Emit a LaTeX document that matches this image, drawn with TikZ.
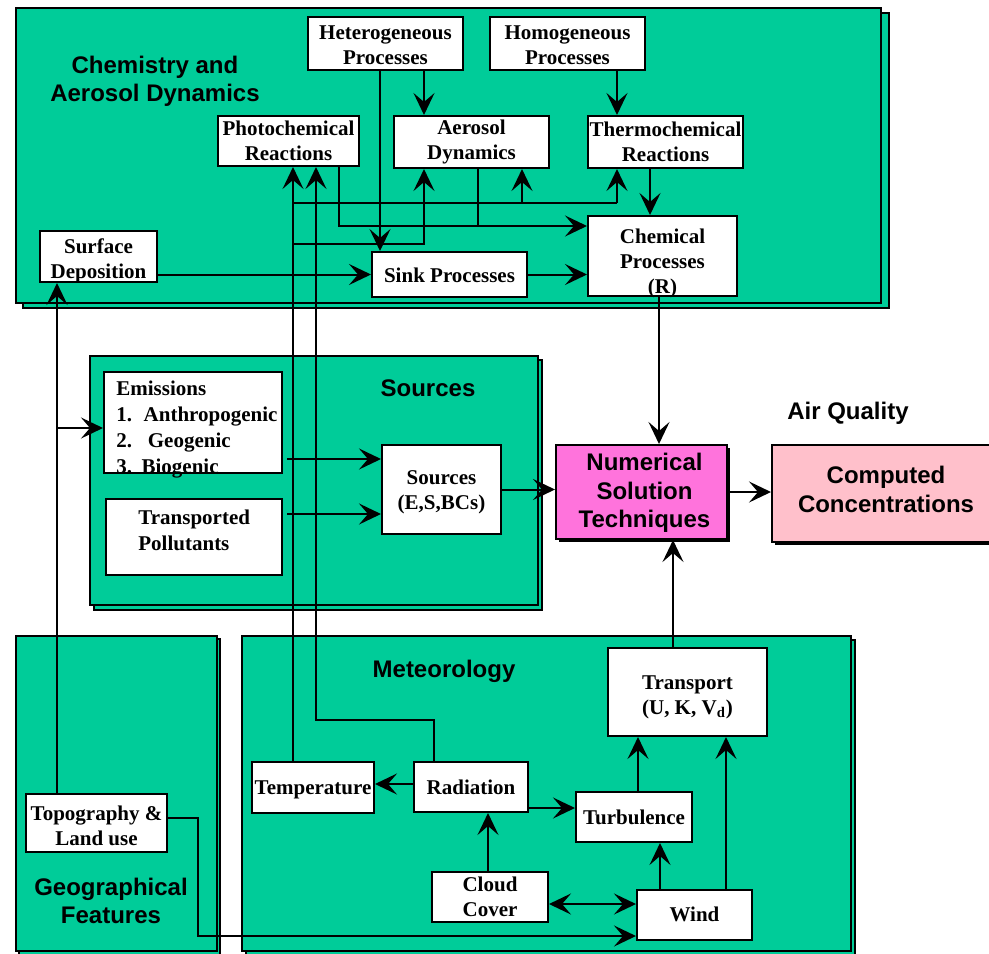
\documentclass[tikz,border=0pt]{standalone}
\usepackage{fontspec}
\setmainfont{Liberation Serif}
\newfontfamily\arialfont{Liberation Sans}
\usetikzlibrary{arrows.meta,fit}
\definecolor{panelgreen}{RGB}{0,204,153}
\definecolor{numpink}{RGB}{255,115,220}
\definecolor{comppink}{RGB}{255,192,203}
\begin{document}
\begin{tikzpicture}[x=0.5pt,y=-0.5pt,
  panel/.style={draw=black,line width=1pt,fill=panelgreen},
  box/.style={draw=black,line width=1pt,fill=white,inner sep=0pt},
  btxt/.style={align=center,inner sep=0pt,font=\bfseries\fontsize{10.5}{12.5}\selectfont},
  stxt/.style={align=center,inner sep=0pt,font=\arialfont\bfseries\fontsize{12}{14.25}\selectfont},
  lbl/.style={font=\arialfont\bfseries\fontsize{12}{14}\selectfont,align=center,inner sep=0pt},
  txt/.style={font=\bfseries\fontsize{10.5}{13}\selectfont,align=left,inner sep=0pt},
  conn/.style={line width=1pt},
  tip/.tip={Stealth[length=11pt,width=10.5pt,inset=4.5pt]},
  arr/.style={conn,-tip},
  arrtwo/.style={conn,tip-tip},
]
\clip (0,0) rectangle (989,953);
\fill[white] (0,0) rectangle (989,953);
% panels
\draw[panel] (23,13) rectangle (889,308);
\draw[panel] (16,8) rectangle (881,303);
\draw[panel] (94,360) rectangle (542,610);
\draw[panel] (90,356) rectangle (538,605);
\draw[panel] (19,639) rectangle (220,958);
\draw[panel] (16,636) rectangle (217,951);
\draw[panel] (246,640) rectangle (855,958);
\draw[panel] (242,636) rectangle (851,951);
% labels
\node[lbl] (chemlbl) at (155,81) {Chemistry and\\Aerosol Dynamics};
\node[lbl] (srclbl) at (428,388) {Sources};
\node[lbl] (aqlbl) at (848,413) {Air Quality};
\node[lbl] (metlbl) at (444,671) {Meteorology};
\node[lbl] (geolbl) at (111,901) {Geographical\\Features};
% chemistry boxes
\node[box,fit={(308,17)(463,70)},label={[btxt,yshift=-1pt]center:{Heterogeneous\\Processes}}] (hetero) {};
\node[box,fit={(490,17)(645,70)},label={[btxt,yshift=-1pt]center:{Homogeneous\\Processes}}] (homo) {};
\node[box,fit={(218,116)(359,166)},label={[btxt]center:{Photochemical\\Reactions}}] (photo) {};
\node[box,fit={(394,116)(549,168)},label={[btxt]center:{Aerosol\\Dynamics}}] (aero) {};
\node[box,fit={(588,116)(743,168)},label={[btxt]center:{Thermochemical\\Reactions}}] (thermo) {};
\node[box,fit={(588,216)(737,296)},label={[btxt,yshift=-3.5pt]center:{Chemical\\Processes\\(R)}}] (chem) {};
\node[box,fit={(372,252)(527,297)},label={[btxt,yshift=-0.5pt]center:{Sink Processes}}] (sink) {};
\node[box,fit={(40,231)(157,282)},label={[btxt,yshift=-2pt]center:{Surface\\Deposition}}] (surf) {};
% sources boxes
\node[box,fit={(104,372)(282,473)}] (emis) {};
\node[txt,anchor=west] (emistxt) at (116,430) {Emissions\\1.\hspace{0.55em}Anthropogenic\\2.\hspace{0.75em}Geogenic\\3.\hspace{0.45em}Biogenic};
\node[box,fit={(106,499)(282,575)}] (transp) {};
\node[txt,anchor=west] (transptxt) at (138,530) {Transported\\Pollutants};
\node[box,fit={(382,445)(501,534)},label={[btxt,yshift=-1.5pt]center:{Sources\\(E,S,BCs)}}] (src) {};
% air quality boxes
\fill[black] (559,448) rectangle (730,542);
\node[box,fill=numpink,fit={(556,445)(727,539)},label={[stxt,xshift=1.5pt,yshift=-0.5pt]center:{Numerical\\Solution\\Techniques}}] (num) {};
\fill[black] (775,448) rectangle (1003,545);
\node[box,fill=comppink,fit={(772,445)(1000,542)},label={[stxt,yshift=2pt]center:{Computed\\Concentrations}}] (comp) {};
% meteorology and geography boxes
\node[box,fit={(252,762)(374,813)},label={[btxt,yshift=-1pt]center:{Temperature}}] (temp) {};
\node[box,fit={(414,762)(528,812)},label={[btxt]center:{Radiation}}] (rad) {};
\node[box,fit={(432,872)(548,922)},label={[btxt]center:{Cloud\\Cover}}] (cloud) {};
\node[box,fit={(576,792)(692,842)},label={[btxt]center:{Turbulence}}] (turb) {};
\node[box,fit={(608,648)(767,736)},label={[btxt,yshift=-2.5pt]center:{Transport\\(U, K, V\textsubscript{d})}}] (trans) {};
\node[box,fit={(637,890)(752,940)},label={[btxt,yshift=0.5pt]center:{Wind}}] (wind) {};
\node[box,fit={(26,794)(167,852)},label={[btxt,yshift=-1.5pt]center:{Topography \&\\Land use}}] (topo) {};
% helper coordinates
\coordinate (xT) at (293,0);
\coordinate (hA) at (293,203);
\coordinate (hB) at (617,203);
\coordinate (hC) at (522,203);
\coordinate (hD) at (293,244);
\coordinate (hE) at (424,244);
\coordinate (r1) at (434,720);
\coordinate (r2) at (316,720);
\coordinate (p1) at (339,226);
\coordinate (a1) at (478,226);
\coordinate (s1) at (380,0);
\coordinate (t1) at (650,0);
\coordinate (c1) at (659,0);
\coordinate (e1) at (287,459);
\coordinate (e2) at (287,514);
\coordinate (g1) at (57,428);
\coordinate (w0) at (198,818);
\coordinate (w2) at (198,936);
\coordinate (m1) at (0,784);
\coordinate (m2) at (488,0);
\coordinate (m3) at (0,808);
\coordinate (m4) at (638,0);
\coordinate (m5) at (660,0);
\coordinate (m6) at (726,0);
\coordinate (m7) at (0,904);
\coordinate (m8) at (673,0);
% chemistry connectors
\draw[arr] (temp.north -| xT) -- (photo.south -| xT);
\draw[conn] (hA) -- (hB);
\draw[arr] (hB) -- (thermo.south -| hB);
\draw[arr] (hC) -- (aero.south -| hC);
\draw[arr] (hD) -- (hE) -- (aero.south -| hE);
\draw[arr] (rad.north -| r1) -- (r1) -- (r2) -- (photo.south -| r2);
\draw[arr] (photo.south -| p1) -- (p1) -- (chem.west |- p1);
\draw[conn] (aero.south -| a1) -- (a1);
\draw[arr] (hetero.south -| hE) -- (aero.north -| hE);
\draw[arr] (hetero.south -| s1) -- (sink.north -| s1);
\draw[arr] (homo.south -| hB) -- (thermo.north -| hB);
\draw[arr] (thermo.south -| t1) -- (chem.north -| t1);
\draw[arr] (sink.east) -- (chem.west |- sink.east);
\draw[arr] (surf.east |- sink.west) -- (sink.west);
% to air quality
\draw[arr] (chem.south -| c1) -- (num.north -| c1);
\draw[arr] (num.east) -- (comp.west |- num.east);
\draw[arr] (src.east) -- (num.west |- src.east);
\draw[arr] (e1) -- (src.west |- e1);
\draw[arr] (e2) -- (src.west |- e2);
% geography
\draw[arr] (topo.north -| g1) -- (surf.south -| g1);
\draw[arr] (g1) -- (emis.west |- g1);
\draw[arr] (topo.east |- w0) -- (w0) -- (w2) -- (wind.west |- w2);
% meteorology
\draw[arr] (rad.west |- m1) -- (temp.east |- m1);
\draw[arr] (cloud.north -| m2) -- (rad.south -| m2);
\draw[arr] (rad.east |- m3) -- (turb.west |- m3);
\draw[arr] (turb.north -| m4) -- (trans.south -| m4);
\draw[arr] (wind.north -| m5) -- (turb.south -| m5);
\draw[arr] (wind.north -| m6) -- (trans.south -| m6);
\draw[arrtwo] (cloud.east |- m7) -- (wind.west |- m7);
\draw[arr] (trans.north -| m8) -- (num.south -| m8);
\end{tikzpicture}
\end{document}
